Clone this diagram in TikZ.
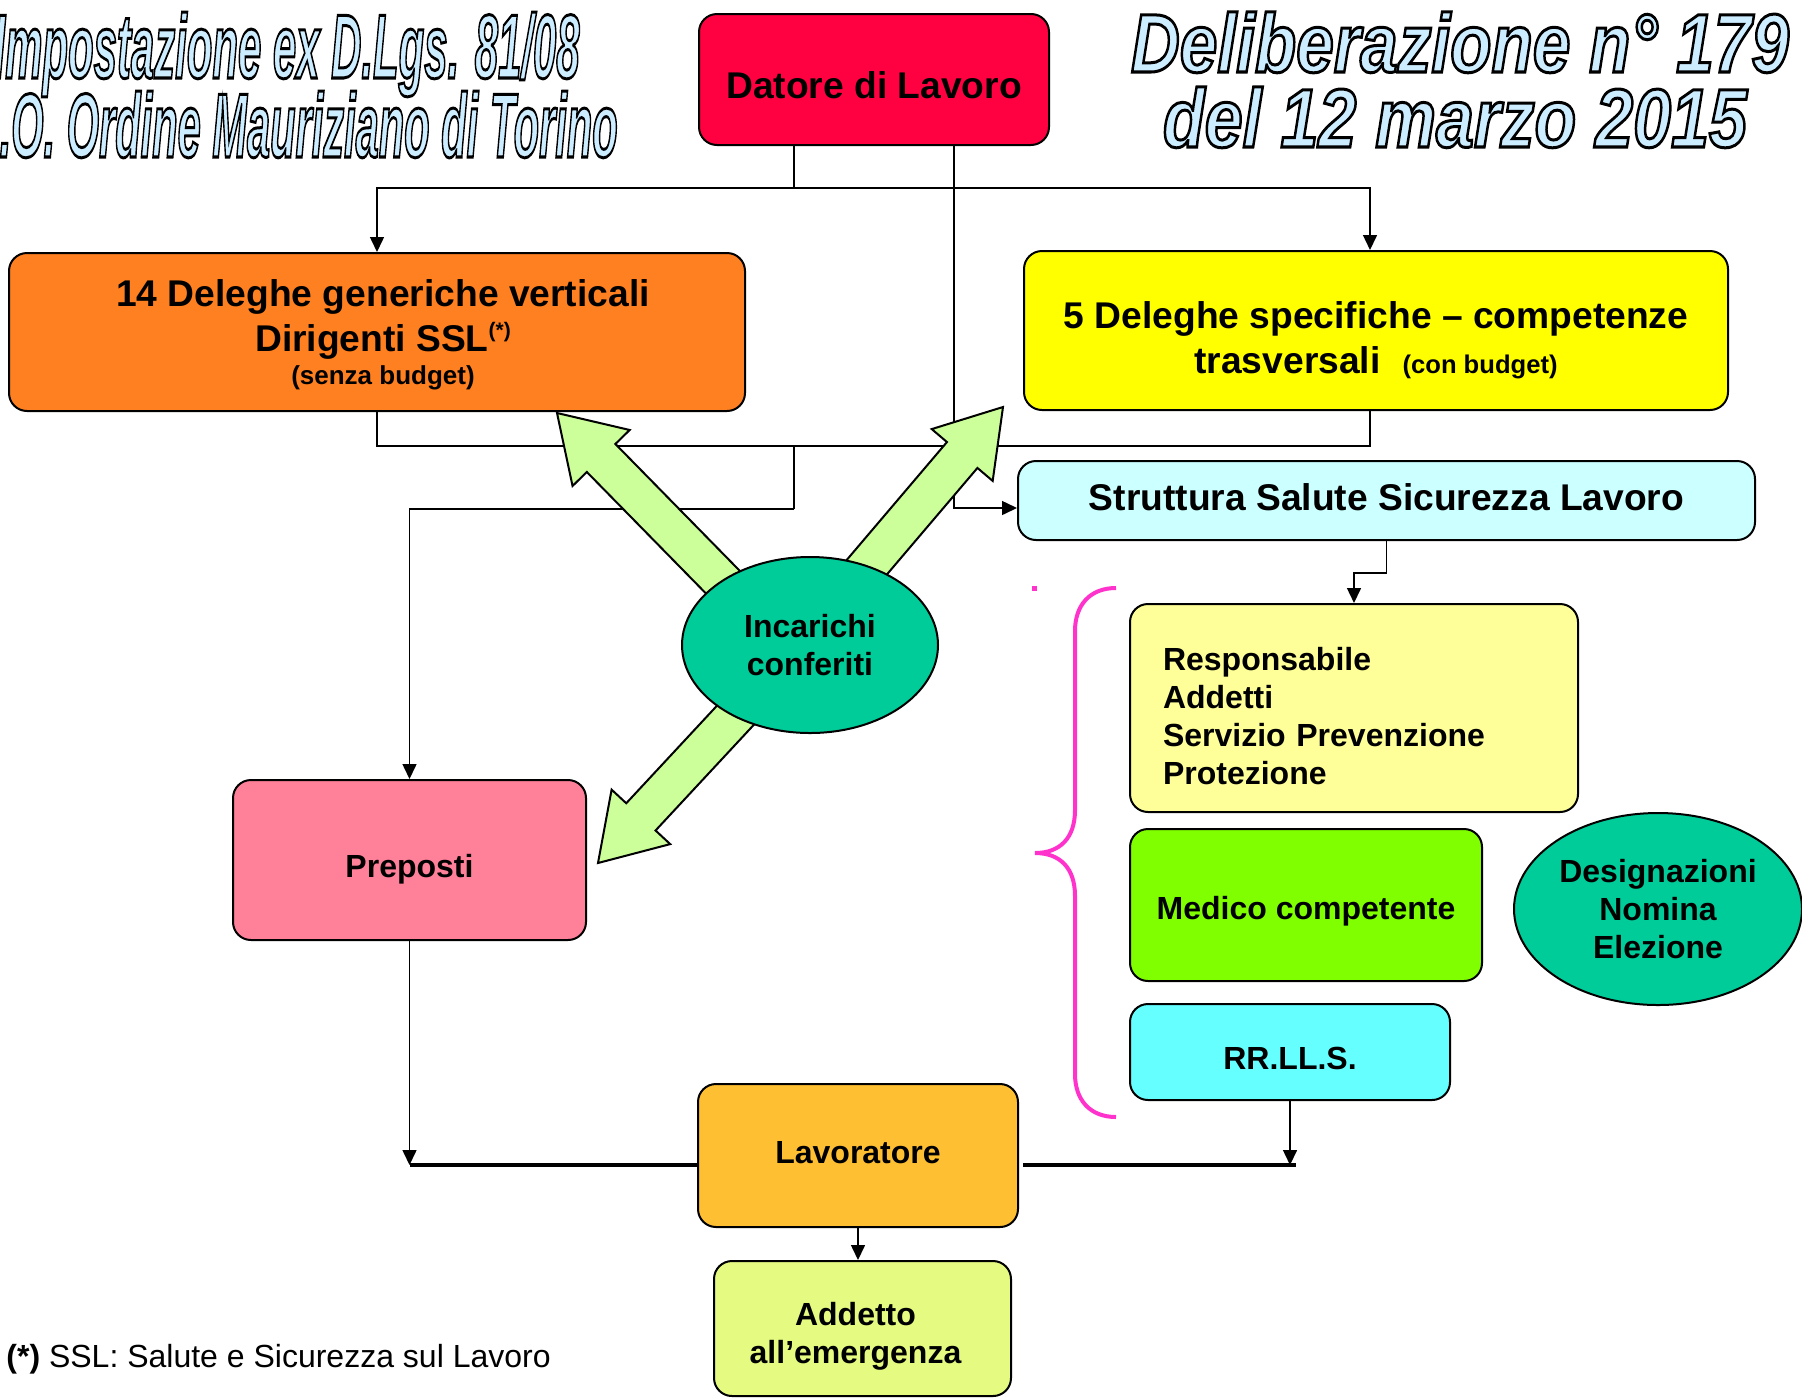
\documentclass[tikz,border=0pt]{standalone}
\usepackage{fontspec}
\setmainfont{Liberation Sans}
\usetikzlibrary{arrows.meta,calc,shapes.geometric}
\definecolor{cDat}{HTML}{FF0040}
\definecolor{cOra}{HTML}{FF8020}
\definecolor{cYel}{HTML}{FFFF00}
\definecolor{cStr}{HTML}{CCFFFF}
\definecolor{cInc}{HTML}{00CC99}
\definecolor{cPre}{HTML}{FF8099}
\definecolor{cRsp}{HTML}{FFFF99}
\definecolor{cMed}{HTML}{80FF00}
\definecolor{cRls}{HTML}{66FFFF}
\definecolor{cLav}{HTML}{FFBF33}
\definecolor{cAdd}{HTML}{E5FA80}
\definecolor{cFat}{HTML}{CCFF99}
\definecolor{cBrace}{HTML}{FF33CC}
\definecolor{cTitle}{HTML}{CCECFF}
\newcommand\outl[1]{\special{pdf:literal direct 0 0 0 RG 1.5 w 2 Tr}#1\special{pdf:literal direct 0 Tr}}
\newcommand\fatarr[3]{%
  \coordinate (#3h) at ($(#2)!31.5pt!(#1)$);
  \draw[fat] (#2) -- ($(#3h)!20pt!90:(#1)$) -- ($(#3h)!10pt!90:(#1)$)
    -- ($(#1)!10pt!-90:(#2)$) -- ($(#1)!10pt!90:(#2)$)
    -- ($(#3h)!10pt!-90:(#1)$) -- ($(#3h)!20pt!-90:(#1)$) -- cycle;}
\tikzset{
  boxx/.style={draw=black, line width=1pt, rounded corners=9pt, inner sep=0pt},
  txt/.style={inner sep=0pt, align=center, font=\bfseries\fontsize{16}{19}\selectfont},
  bigf/.style={font=\bfseries\fontsize{18.6}{22.5}\selectfont},
  oval/.style={ellipse, draw=black, line width=1pt, fill=cInc, inner sep=0pt, align=center,
    font=\bfseries\fontsize{16}{19}\selectfont},
  ln/.style={line width=0.75pt},
  arr/.style={line width=0.75pt, -{Triangle[length=7.5pt,width=7pt]}},
  bus/.style={line width=1.75pt},
  fat/.style={draw=black, line width=1pt, fill=cFat, line join=miter},
  bracex/.style={draw=cBrace, line width=2pt},
  ttl/.style={inner sep=0pt},
  ttlL/.style={font=\bfseries\itshape\fontsize{45.5}{46}\selectfont},
  ttlR/.style={font=\bfseries\itshape\fontsize{41.5}{42}\selectfont}
}
\begin{document}
\begin{tikzpicture}[x=0.5pt,y=-0.5pt]
\useasboundingbox (0,0) rectangle (1802,1398);
\fill[white] (0,0) rectangle (1802,1398);
% titles
\node[ttl, ttlL, anchor=base east] (tl1) at (580,78) {\resizebox{293pt}{\height}{\textcolor{cTitle}{\outl{Impostazione ex D.Lgs. 81/08}}}};
\node[ttl, ttlL, anchor=base east] (tl2) at (618,157) {\resizebox{324pt}{\height}{\textcolor{cTitle}{\outl{A.O. Ordine Mauriziano di Torino}}}};
\node[ttl, ttlR, anchor=base] (tr1) at (1460,72) {\resizebox{329pt}{\height}{\textcolor{cTitle}{\outl{Deliberazione n° 179}}}};
\node[ttl, ttlR, anchor=base] (tr2) at (1455,147) {\resizebox{292pt}{\height}{\textcolor{cTitle}{\outl{del 12 marzo 2015}}}};
% boxes
\node[boxx, fill=cDat, minimum width=175pt, minimum height=65.5pt] (dat) at (874,79.5) {};
\node[txt, bigf] (datT) at ($(dat.center)+(0,6)$) {Datore di Lavoro};
\node[boxx, fill=cOra, minimum width=368pt, minimum height=79pt] (ora) at (377,332) {};
\node[txt, bigf] (oraT) at ($(ora.center)+(6,3)$)
  {14 Deleghe generiche verticali\\ Dirigenti SSL\raisebox{7pt}{\fontsize{10.5}{10.5}\selectfont(*)}\\[-5.8pt]
   {\fontsize{13}{15}\selectfont(senza budget)}};
\node[boxx, fill=cYel, minimum width=352pt, minimum height=79.5pt] (yel) at (1376,330.5) {};
\node[txt, bigf] (yelT) at ($(yel.center)+(0,10)$)
  {5 Deleghe specifiche -- competenze\\ trasversali\hspace{11pt}{\fontsize{12.8}{15}\selectfont(con budget)}};
\node[boxx, fill=cStr, minimum width=368.5pt, minimum height=39.5pt] (str) at (1386.5,500.5) {};
\node[txt, bigf] (strT) at ($(str.center)+(0,-3.5)$) {Struttura Salute Sicurezza Lavoro};
\node[boxx, fill=cPre, minimum width=176.5pt, minimum height=80pt] (pre) at (409.5,860) {};
\node[txt] (preT) at ($(pre.center)+(0,9)$) {Preposti};
\node[boxx, fill=cRsp, minimum width=224pt, minimum height=104pt] (rsp) at (1354,708) {};
\node[txt, text width=191pt, align=left] (rspT) at ($(rsp.center)+(0,8)$)
  {Responsabile\\Addetti\\Servizio Prevenzione\\Protezione};
\node[boxx, fill=cMed, minimum width=176pt, minimum height=76pt] (med) at (1306,905) {};
\node[txt] (medT) at ($(med.center)+(0,6)$) {Medico competente};
\node[boxx, fill=cRls, minimum width=160pt, minimum height=48pt] (rls) at (1290,1052) {};
\node[txt] (rlsT) at ($(rls.center)+(0,6)$) {RR.LL.S.};
\node[boxx, fill=cLav, minimum width=160pt, minimum height=71.5pt] (lav) at (858,1155.5) {};
\node[txt] (lavT) at ($(lav.center)+(0,-2.5)$) {Lavoratore};
\node[boxx, fill=cAdd, minimum width=148.5pt, minimum height=67.5pt] (add) at (862.5,1328.5) {};
\node[txt] (addT) at ($(add.center)+(-7,8)$) {Addetto\\all’emergenza};
\node[oval, minimum width=144pt, minimum height=96pt] (des) at (1658,909) {Designazioni\\Nomina\\Elezione};
\node[anchor=west, inner sep=0pt, font=\fontsize{16}{19}\selectfont] (fn) at (6,1359.5)
  {\textbf{(*)} SSL: Salute e Sicurezza sul Lavoro};
% connectors
\coordinate (j1) at ($(dat.south)+(-80,42)$);
\coordinate (j2) at ($(dat.south)+(-80,300)$);
\coordinate (j3) at ($(dat.south)+(-80,363)$);
\draw[ln] ($(dat.south)+(-80,0)$) -- (j1);
\draw[arr] (j1) -| (ora.north);
\draw[arr] (j1) -| ($(yel.north)+(-6,0)$);
\draw[arr] ($(dat.south)+(80,0)$) |- ($(str.west)+(0,7.5)$);
\draw[ln] (ora.south) |- (j2);
\draw[ln] ($(yel.south)+(-6,0)$) |- (j2);
\draw[ln] (j2) -- (j3);
\draw[arr] (j3) -| (pre.north);
\draw[arr] (str.south) -- ++(0,32) -| (rsp.north);
\coordinate (busL) at ($(pre.south)+(0,224)$);
\coordinate (busR) at ($(rls.south)+(0,64)$);
\draw[arr] (pre.south) -- (busL);
\draw[arr] (rls.south) -- (busR);
\draw[bus] (busL) -- (busL -| lav.west);
\draw[bus] ($(busR -| lav.east)+(4,0)$) -- ($(busR)+(6,0)$);
\draw[arr] (lav.south) -- (lav.south |- add.north);
% fat arrows
\coordinate (incC) at (810,645);
\coordinate (t1) at (557,413);
\coordinate (t2) at (1003,407);
\coordinate (t3) at (598,863);
\coordinate (a1) at ($(incC)+(0,26)$);
\coordinate (a2) at ($(incC)+(0,-11)$);
\coordinate (a3) at ($(incC)+(0,-10)$);
\fatarr{a1}{t1}{fa}
\fatarr{a2}{t2}{fb}
\fatarr{a3}{t3}{fc}
\node[oval, minimum width=128pt, minimum height=88pt] (inc) at (incC) {Incarichi\\conferiti};
% brace
\draw[bracex] (1116,588) .. controls (1090,588) and (1075,605) .. (1075,631) -- (1075,810)
  .. controls (1075,838) and (1060,853) .. (1035,853)
  .. controls (1060,853) and (1075,868) .. (1075,896) -- (1075,1074)
  .. controls (1075,1100) and (1090,1117) .. (1116,1117);
\fill[cBrace] (1032,586) rectangle (1037,591);
\end{tikzpicture}
\end{document}
